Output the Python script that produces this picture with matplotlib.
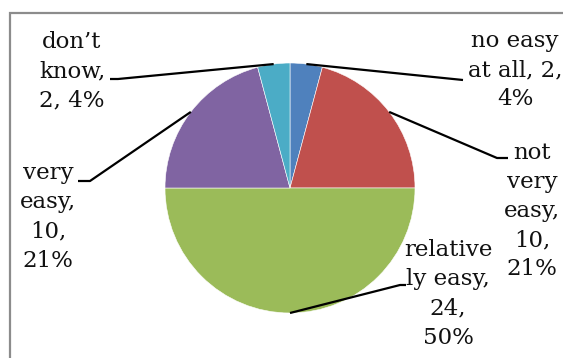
import matplotlib
matplotlib.use("Agg")
import matplotlib.pyplot as plt
from matplotlib.patches import Rectangle
import numpy as np

# Survey answers
categories = ["no easy at all", "not very easy", "relatively easy", "very easy", "don't know"]
counts = [2, 10, 24, 10, 2]
percents = [4, 21, 50, 21, 4]
label_texts = [
    "no easy\nat all, 2,\n4%",
    "not\nvery\neasy,\n10,\n21%",
    "relative\nly easy,\n24,\n50%",
    "very\neasy,\n10,\n21%",
    "don\u2019t\nknow,\n2, 4%",
]
colors = ["#4F81BD", "#C0504D", "#9BBB59", "#8064A2", "#4BACC6"]

W, H = 563, 358
fig = plt.figure(figsize=(W / 100, H / 100), dpi=100)
ax = fig.add_axes([0, 0, 1, 1])

# chart area border (only top and left edges fall inside the image)
ax.add_patch(Rectangle((10, -20), 700, H - 13 + 20, fill=False,
                       edgecolor="#8c8c8c", linewidth=1.6))

cx, cy, r = 290, H - 188, 125
wedges, _ = ax.pie(counts, colors=colors, startangle=90, counterclock=False,
                   center=(cx, cy), radius=r, frame=True,
                   wedgeprops=dict(edgecolor="white", linewidth=0.4))
ax.set_xlim(0, W)
ax.set_ylim(0, H)
ax.set_aspect("equal")
ax.axis("off")

# label block centres and leader paths (elbow, end) in pixel coords
text_pos = [(515, 70), (532, 211), (448, 294), (48, 217), (72, 71)]
leaders = [
    [(463, 80)],
    [(497, 158), (508, 158)],
    [(400, 285), (406, 285)],
    [(90, 181), (78, 181)],
    [(118, 79), (110, 79)],
]

for w, txt, (tx, ty), path in zip(wedges, label_texts, text_pos, leaders):
    ang = np.deg2rad((w.theta1 + w.theta2) / 2)
    x0, y0 = cx + r * np.cos(ang), cy + r * np.sin(ang)
    xs = [x0] + [p[0] for p in path]
    ys = [y0] + [H - p[1] for p in path]
    ax.plot(xs, ys, color="black", linewidth=1.6, solid_capstyle="butt")
    ax.text(tx, H - ty, txt, ha="center", va="center", fontsize=16.5,
            family="DejaVu Serif", color="#111111", linespacing=1.42,
            multialignment="center")

fig.savefig("out.png", dpi=100)
